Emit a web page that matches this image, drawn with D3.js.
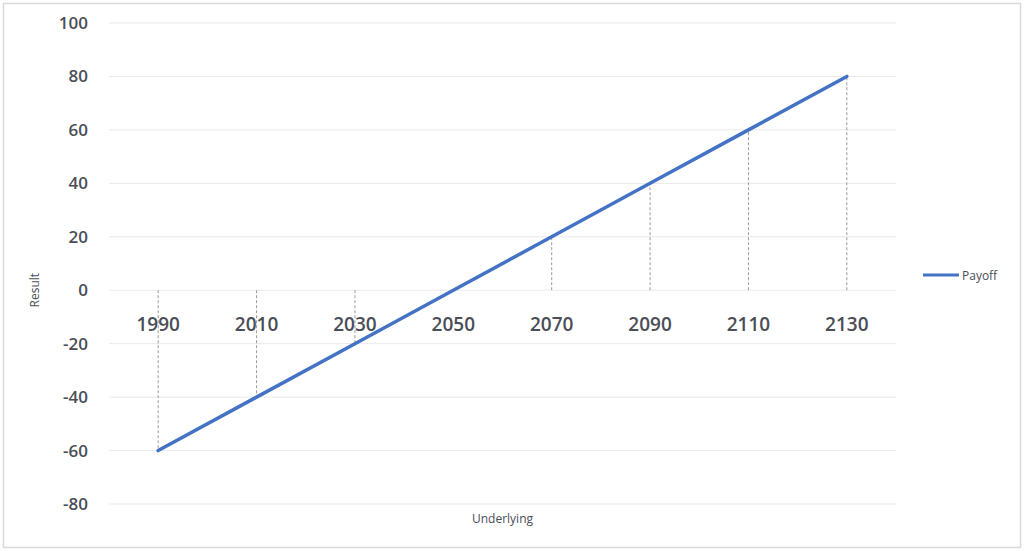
<!DOCTYPE html>
<html>
<head>
<meta charset="utf-8">
<script src="https://cdn.jsdelivr.net/npm/d3@7"></script>
<style>
  html, body { margin: 0; padding: 0; background: #fff; }
  svg { display: block; }
</style>
</head>
<body>
<div id="chart"></div>
<script>
// Data
var categories = ['1990', '2010', '2030', '2050', '2070', '2090', '2110', '2130'];
var payoff = [-60, -40, -20, 0, 20, 40, 60, 80];
var yTicks = [-80, -60, -40, -20, 0, 20, 40, 60, 80, 100];
var seriesName = 'Payoff';

var attrs = {
  width: 1024,
  height: 551,
  plotLeft: 109,
  plotRight: 896,
  plotTop: 23,
  plotBottom: 504,
  lineColor: '#4472c4',
  gridColor: '#e9e9e9',
  textColor: '#4a4e57',
  font: "'Open Sans', sans-serif"
};

var svg = d3.select('#chart').append('svg')
  .attr('width', attrs.width)
  .attr('height', attrs.height)
  .attr('font-family', attrs.font);

// outer frame
svg.append('rect')
  .attr('x', 3.5).attr('y', 3.5)
  .attr('width', attrs.width - 7).attr('height', attrs.height - 7)
  .attr('fill', '#fff')
  .attr('stroke', '#d9d9d9')
  .attr('stroke-width', 1.5);

var x = d3.scaleBand()
  .domain(categories)
  .range([attrs.plotLeft, attrs.plotRight]);

var y = d3.scaleLinear()
  .domain([-80, 100])
  .range([attrs.plotBottom, attrs.plotTop]);

// gridlines
svg.append('g').selectAll('line')
  .data(yTicks)
  .join('line')
  .attr('x1', attrs.plotLeft).attr('x2', attrs.plotRight)
  .attr('y1', d => y(d)).attr('y2', d => y(d))
  .attr('stroke', attrs.gridColor)
  .attr('stroke-width', 1);

// y axis labels (plain hyphen for negatives, like the original)
var yAxis = d3.axisLeft(y).tickValues(yTicks).tickFormat(d => String(d)).tickSize(0).tickPadding(0);
svg.append('g')
  .attr('transform', 'translate(88,0)')
  .call(yAxis)
  .call(g => g.select('.domain').remove())
  .selectAll('text')
  .attr('fill', attrs.textColor)
  .attr('font-size', 17)
  .attr('font-weight', 600)
  .attr('font-family', attrs.font);

// drop lines from each point to zero
svg.append('g').selectAll('line')
  .data(payoff)
  .join('line')
  .attr('x1', (d, i) => x(categories[i]) + x.bandwidth() / 2)
  .attr('x2', (d, i) => x(categories[i]) + x.bandwidth() / 2)
  .attr('y1', y(0))
  .attr('y2', d => y(d))
  .attr('stroke', '#9a9a9a')
  .attr('stroke-width', 1)
  .attr('stroke-dasharray', '3,2');

// category labels sit just under the zero line
var xAxis = d3.axisBottom(x).tickSize(0).tickPadding(0);
svg.append('g')
  .attr('transform', 'translate(0,' + (y(0) + 27) + ')')
  .call(xAxis)
  .call(g => g.select('.domain').remove())
  .selectAll('text')
  .attr('fill', attrs.textColor)
  .attr('font-size', 19)
  .attr('font-weight', 600)
  .attr('font-family', attrs.font);

// payoff line
var line = d3.line()
  .x((d, i) => x(categories[i]) + x.bandwidth() / 2)
  .y(d => y(d));

svg.append('path')
  .datum(payoff)
  .attr('d', line)
  .attr('fill', 'none')
  .attr('stroke', attrs.lineColor)
  .attr('stroke-width', 3.5)
  .attr('stroke-linecap', 'round');

// axis titles
svg.append('text')
  .attr('transform', 'translate(39,' + y(0) + ') rotate(-90)')
  .attr('text-anchor', 'middle')
  .attr('font-size', 12)
  .attr('fill', attrs.textColor)
  .text('Result');

svg.append('text')
  .attr('x', (attrs.plotLeft + attrs.plotRight) / 2)
  .attr('y', 523)
  .attr('text-anchor', 'middle')
  .attr('font-size', 12)
  .attr('fill', attrs.textColor)
  .text('Underlying');

// legend
var legend = svg.append('g').attr('transform', 'translate(923,275)');
legend.append('line')
  .attr('x1', 0).attr('x2', 36)
  .attr('stroke', attrs.lineColor)
  .attr('stroke-width', 3);
legend.append('text')
  .attr('x', 39).attr('y', 4.5)
  .attr('font-size', 12)
  .attr('fill', attrs.textColor)
  .text(seriesName);
</script>
</body>
</html>
